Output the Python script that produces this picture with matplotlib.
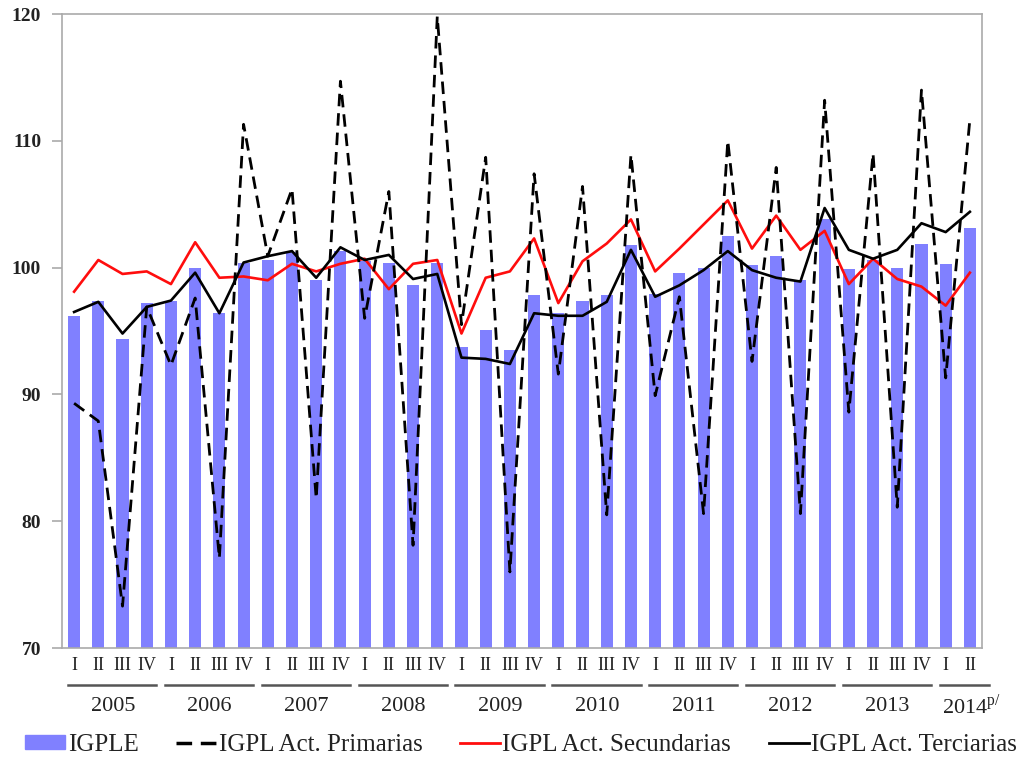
import matplotlib.pyplot as plt
import matplotlib.transforms as mtransforms
from matplotlib.patches import Patch
from matplotlib.lines import Line2D
import numpy as np

plt.rcParams['font.family'] = ['Liberation Serif', 'DejaVu Serif']

years = ['2005', '2006', '2007', '2008', '2009', '2010', '2011', '2012', '2013', '2014']
quarters = ['I', 'II', 'III', 'IV']
n_quarters = [4, 4, 4, 4, 4, 4, 4, 4, 4, 2]

igple = [96.2, 97.4, 94.4, 97.2, 97.4, 100.0, 96.4, 100.4,
         100.6, 101.2, 99.0, 101.3, 100.5, 100.4, 98.6, 100.4,
         93.7, 95.1, 93.5, 97.8, 96.4, 97.4, 97.8, 101.8,
         97.9, 99.6, 100.0, 102.5, 100.2, 100.9, 99.0, 103.8,
         99.9, 100.6, 100.0, 101.9, 100.3, 103.1]
primarias = [89.3, 87.9, 73.3, 96.9, 92.3, 97.6, 77.1, 111.3,
             100.9, 106.2, 81.8, 114.7, 96.0, 106.0, 78.1, 119.8,
             95.5, 108.7, 76.0, 107.4, 91.6, 106.4, 80.5, 108.9,
             89.9, 97.7, 80.6, 110.0, 92.6, 107.9, 80.6, 113.2,
             88.6, 109.0, 81.1, 114.0, 91.3, 111.7]
secundarias = [98.1, 100.6, 99.5, 99.7, 98.7, 102.0, 99.2, 99.3,
               99.0, 100.3, 99.7, 100.3, 100.7, 98.3, 100.3, 100.6,
               94.8, 99.2, 99.7, 102.3, 97.2, 100.5, 101.9, 103.8,
               99.7, 101.5, 103.4, 105.3, 101.5, 104.1, 101.4, 102.9,
               98.7, 100.7, 99.1, 98.5, 97.0, 99.6]
terciarias = [96.5, 97.3, 94.8, 96.9, 97.4, 99.6, 96.4, 100.4,
              100.9, 101.3, 99.2, 101.6, 100.6, 101.0, 99.1, 99.5,
              92.9, 92.8, 92.4, 96.4, 96.2, 96.2, 97.3, 101.4,
              97.7, 98.6, 99.8, 101.3, 99.8, 99.2, 98.9, 104.7,
              101.4, 100.7, 101.4, 103.5, 102.8, 104.4]

x = np.arange(len(igple))

fig = plt.figure(figsize=(10.22, 7.64), dpi=100)
ax = fig.add_axes([62/1022, 1 - 648/764, 920/1022, 634/764])

bar_color = '#8080ff'
dash = (0, (4.5, 2.5))
ax.bar(x, igple, width=0.5, color=bar_color, zorder=1)
ax.plot(x, primarias, color='black', ls=dash, lw=2, zorder=3)
ax.plot(x, secundarias, color='#ff0d0d', lw=1.9, zorder=2)
ax.plot(x, terciarias, color='black', lw=1.9, zorder=2)

ax.set_ylim(70, 120)
ax.set_xlim(-0.5, len(igple) - 0.5)
ax.set_yticks(range(70, 121, 10))
ax.tick_params(axis='y', labelsize=14, color='#aaaaaa', length=7, width=1.2, pad=8)
for t in ax.get_yticklabels():
    t.set_fontweight('bold')
    t.set_color('#222222')
ax.set_xticks([])
for s in ax.spines.values():
    s.set_color('#aaaaaa')
    s.set_linewidth(1.2)

# x labels: quarters, underline and year
trans = mtransforms.blended_transform_factory(ax.transData, ax.transAxes)
start = 0
for year, nq in zip(years, n_quarters):
    for q in range(nq):
        ax.text(start + q, -0.027, quarters[q], transform=trans, ha='center',
                va='center', fontsize=13, clip_on=False, color='#222222')
    end = start + nq - 1
    right = end + 0.8 if year == '2014' else end + 0.4
    ax.plot([start - 0.25, right], [-0.058, -0.058], transform=trans,
            color='#555555', lw=1.8, clip_on=False)
    label = year + r'$^{\mathregular{p/}}$' if year == '2014' else year
    xc = (start + end) / 2 + 0.1
    if year == '2014':
        xc += 0.45
    ax.text(xc, -0.093, label, transform=trans, ha='center', va='center',
            fontsize=16, clip_on=False, color='#222222')
    start += nq

handles = [Patch(color=bar_color),
           Line2D([], [], color='black', ls=dash, lw=2.5),
           Line2D([], [], color='#ff0d0d', lw=2),
           Line2D([], [], color='black', lw=2)]
labels = ['IGPLE', 'IGPL Act. Primarias', 'IGPL Act. Secundarias', 'IGPL Act. Terciarias']
fig.legend(handles, labels, loc='center', bbox_to_anchor=(0.51, 1 - 745/764),
           ncol=4, frameon=False, fontsize=18, handlelength=1.6, handleheight=0.5,
           handletextpad=0.1, columnspacing=1.5, labelcolor='#222222')

fig.savefig('out.png', dpi=100)
